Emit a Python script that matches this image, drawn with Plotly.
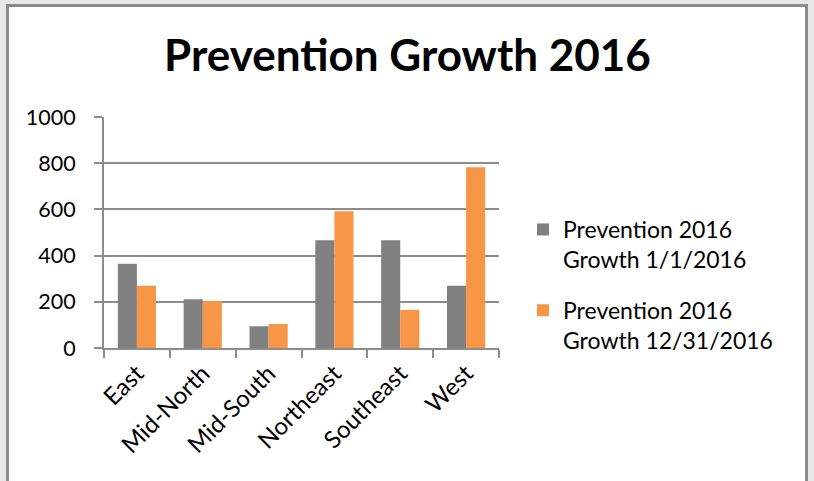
import plotly.graph_objects as go

categories = ["East", "Mid-North", "Mid-South", "Northeast", "Southeast", "West"]
growth_jan = [365, 211, 94, 466, 466, 270]
growth_dec = [270, 203, 104, 592, 165, 782]
series_names = ["Prevention 2016<br>Growth 1/1/2016", "Prevention 2016<br>Growth 12/31/2016"]
y_ticks = [0, 200, 400, 600, 800, 1000]

W, H = 814, 481
L, R, T, B = 104, 499, 117, 348  # plot area pixel bounds


def px_x(p):
    return (p - L) / (R - L)


def px_y(p):
    return (B - p) / (B - T)


font = "Lato, 'Open Sans', sans-serif"

fig = go.Figure()
fig.add_trace(go.Bar(x=categories, y=growth_jan, name=series_names[0], legendgroup="a",
                     marker=dict(color="#808080", line=dict(width=0))))
fig.add_trace(go.Bar(x=categories, y=growth_dec, name=series_names[1], legendgroup="b",
                     marker=dict(color="#f79646", line=dict(width=0))))

fig.update_layout(
    width=W, height=H,
    margin=dict(l=L, r=W - R, t=T, b=H - B, pad=0),
    paper_bgcolor="#e6e7e6",
    plot_bgcolor="rgba(0,0,0,0)",
    barmode="group",
    bargap=0.42,
    bargroupgap=0,
    font=dict(family=font, size=21, color="#000000"),
    title=dict(text="<b>Prevention Growth 2016</b>", x=(165 + 650) / 2 / W, xanchor="center",
               y=1 - 56 / H, yanchor="middle",
               font=dict(family=font, size=44, color="#000000")),
    showlegend=True,
    legend=dict(x=px_x(523), xanchor="left", y=px_y(208), yanchor="top",
                font=dict(family=font, size=23, color="#000000"),
                bgcolor="rgba(0,0,0,0)", tracegroupgap=18, itemwidth=30, valign="top"),
    shapes=[dict(type="rect", xref="paper", yref="paper",
                 x0=px_x(7.5), x1=px_x(806.5), y0=px_y(5.5), y1=px_y(520),
                 line=dict(color="#8a8a8a", width=3), fillcolor="#ffffff", layer="below")],
)

fig.update_xaxes(
    type="category", showgrid=False, showline=True, linecolor="#8c8c8c", linewidth=2,
    ticks="outside", tickson="boundaries", ticklen=8, tickcolor="#8c8c8c", tickwidth=2,
    tickangle=-45, tickfont=dict(family=font, size=24, color="#000000"),
)
fig.update_yaxes(
    range=[0, 1000], tickvals=y_ticks, showgrid=True, gridcolor="#8c8c8c", gridwidth=2,
    showline=True, linecolor="#8c8c8c", linewidth=2, zeroline=False,
    ticks="outside", ticklen=8, tickcolor="#8c8c8c", tickwidth=2,
    ticklabelstandoff=14, tickfont=dict(family=font, size=21.5, color="#000000"),
)

fig.write_html("out.html", config={"displayModeBar": False},
               post_script="document.body.style.margin='0';document.body.style.overflow='hidden';")
